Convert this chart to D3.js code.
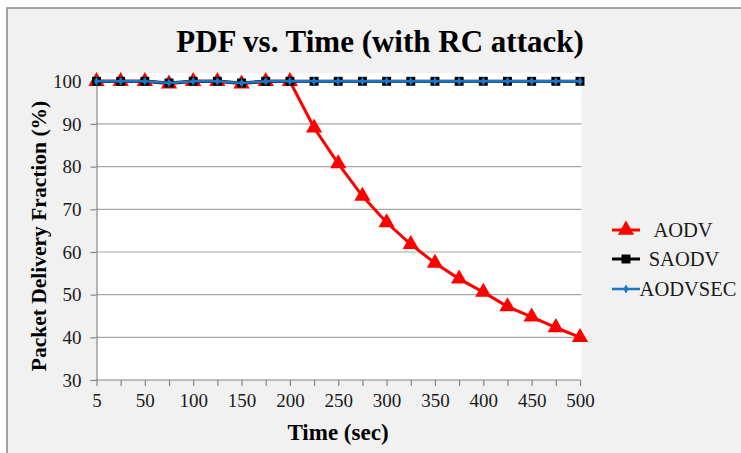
<!DOCTYPE html>
<html>
<head>
<meta charset="utf-8">
<script src="https://cdn.jsdelivr.net/npm/d3@7/dist/d3.min.js"></script>
<style>
  html, body { margin: 0; padding: 0; background: #ffffff; }
  svg { display: block; }
</style>
</head>
<body>
<svg id="chart" width="741" height="453"></svg>
<script>
// Simulation time (sec) and packet delivery fraction (%) per protocol
const times = [5, 25, 50, 75, 100, 125, 150, 175, 200, 225, 250, 275, 300, 325, 350, 375, 400, 425, 450, 475, 500];
const tickLabels = ["5", "50", "100", "150", "200", "250", "300", "350", "400", "450", "500"];
const aodv     = [100, 100, 100, 99.4, 100, 100, 99.4, 100, 100, 89.1, 80.7, 73.1, 66.9, 61.8, 57.4, 53.7, 50.6, 47.2, 44.8, 42.3, 40.0];
const saodv    = [100, 100, 100, 99.6, 100, 100, 99.6, 100, 100, 100, 100, 100, 100, 100, 100, 100, 100, 100, 100, 100, 100];
const aodvsec  = [100, 100, 100, 99.6, 100, 100, 99.6, 100, 100, 100, 100, 100, 100, 100, 100, 100, 100, 100, 100, 100, 100];
const yTicks = [30, 40, 50, 60, 70, 80, 90, 100];
const seriesNames = ["AODV", "SAODV", "AODVSEC"];

const svg = d3.select("#chart");
const W = 741, H = 453;
const serif = "'Liberation Serif', 'Times New Roman', serif";

// Chart frame
svg.append("rect").attr("x", 7).attr("y", 8).attr("width", W + 20).attr("height", H + 20)
  .attr("fill", "#f1f1f1").attr("stroke", "#868686").attr("stroke-width", 1.5);

const plot = { left: 96.5, right: 580, top: 81.3, bottom: 380 };

// Plot area background
svg.append("rect").attr("x", plot.left).attr("y", 73).attr("width", plot.right + 1.5 - plot.left)
  .attr("height", plot.bottom - 73).attr("fill", "#ffffff");

const x = d3.scalePoint().domain(times).range([plot.left, plot.right]);
const y = d3.scaleLinear().domain([30, 100]).range([plot.bottom, plot.top]);

// Horizontal gridlines
svg.append("g").selectAll("line").data(yTicks.filter(v => v > 30)).join("line")
  .attr("x1", plot.left).attr("x2", plot.right + 1.5)
  .attr("y1", d => y(d)).attr("y2", d => y(d))
  .attr("stroke", "#a6a6a6").attr("stroke-width", 1.2);

// Y axis
const yAxis = svg.append("g").attr("transform", `translate(${plot.left},0)`)
  .call(d3.axisLeft(y).tickValues(yTicks).tickSize(6).tickPadding(9));
yAxis.select(".domain").attr("stroke", "#868686").attr("stroke-width", 1.2);
yAxis.selectAll(".tick line").attr("stroke", "#868686").attr("stroke-width", 1.2);
yAxis.selectAll(".tick text").attr("font-family", serif).attr("font-size", 19).attr("fill", "#1a1a1a");

// X axis: tick on every category, label on every other
const xAxis = svg.append("g").attr("transform", `translate(0,${plot.bottom})`)
  .call(d3.axisBottom(x).tickSize(6).tickPadding(8)
    .tickFormat((d, i) => i % 2 === 0 ? tickLabels[i / 2] : ""));
xAxis.select(".domain").attr("stroke", "#868686").attr("stroke-width", 1.2)
  .attr("d", `M${plot.left},0H${plot.right}`);
xAxis.selectAll(".tick line").attr("stroke", "#868686").attr("stroke-width", 1.2);
xAxis.selectAll(".tick text").attr("font-family", serif).attr("font-size", 19).attr("fill", "#1a1a1a");

// Series
const line = d3.line().x((d, i) => x(times[i])).y(d => y(d));
const tri = d3.symbol().type(d3.symbolTriangle).size(115);
const sq = d3.symbol().type(d3.symbolSquare).size(80);
const dot = d3.symbol().type(d3.symbolDiamond).size(24);

// AODV
svg.append("path").datum(aodv).attr("d", line).attr("fill", "none")
  .attr("stroke", "#ff0000").attr("stroke-width", 3);
svg.append("g").selectAll("path").data(aodv).join("path")
  .attr("d", tri).attr("transform", (d, i) => `translate(${x(times[i])},${y(d)})`)
  .attr("fill", "#ff0000");

// SAODV
svg.append("path").datum(saodv).attr("d", line).attr("fill", "none")
  .attr("stroke", "#000000").attr("stroke-width", 3);
svg.append("g").selectAll("path").data(saodv).join("path")
  .attr("d", sq).attr("transform", (d, i) => `translate(${x(times[i])},${y(d)})`)
  .attr("fill", "#000000");

// AODVSEC
svg.append("path").datum(aodvsec).attr("d", line).attr("fill", "none")
  .attr("stroke", "#1a76c6").attr("stroke-width", 2.5);
svg.append("g").selectAll("path").data(aodvsec).join("path")
  .attr("d", dot).attr("transform", (d, i) => `translate(${x(times[i])},${y(d)})`)
  .attr("fill", "#1a76c6");

// Title and axis titles
svg.append("text").attr("x", 380).attr("y", 52).attr("text-anchor", "middle")
  .attr("font-family", serif).attr("font-weight", "bold").attr("font-size", 31)
  .attr("fill", "#000").text("PDF vs. Time (with RC attack)");
svg.append("text").attr("x", 338).attr("y", 440).attr("text-anchor", "middle")
  .attr("font-family", serif).attr("font-weight", "bold").attr("font-size", 23)
  .attr("fill", "#000").text("Time (sec)");
svg.append("text").attr("transform", "translate(46,236) rotate(-90)").attr("text-anchor", "middle")
  .attr("font-family", serif).attr("font-weight", "bold").attr("font-size", 21.5)
  .attr("fill", "#000").text("Packet Delivery Fraction (%)");

// Legend
const legend = [
  { name: seriesNames[0], color: "#ff0000", sym: tri, w: 3, y: 230, textX: 683 },
  { name: seriesNames[1], color: "#000000", sym: sq, w: 3, y: 259, textX: 684 },
  { name: seriesNames[2], color: "#1a76c6", sym: dot, w: 2.5, y: 289, textX: 688 }
];
const lg = svg.append("g");
legend.forEach(l => {
  lg.append("line").attr("x1", 612).attr("x2", 640).attr("y1", l.y).attr("y2", l.y)
    .attr("stroke", l.color).attr("stroke-width", l.w);
  lg.append("path").attr("d", l.sym).attr("transform", `translate(626,${l.y})`).attr("fill", l.color);
  lg.append("text").attr("x", l.textX).attr("y", l.y + 7).attr("text-anchor", "middle")
    .attr("font-family", serif).attr("font-size", 20.5).attr("fill", "#1a1a1a").text(l.name);
});
</script>
</body>
</html>
